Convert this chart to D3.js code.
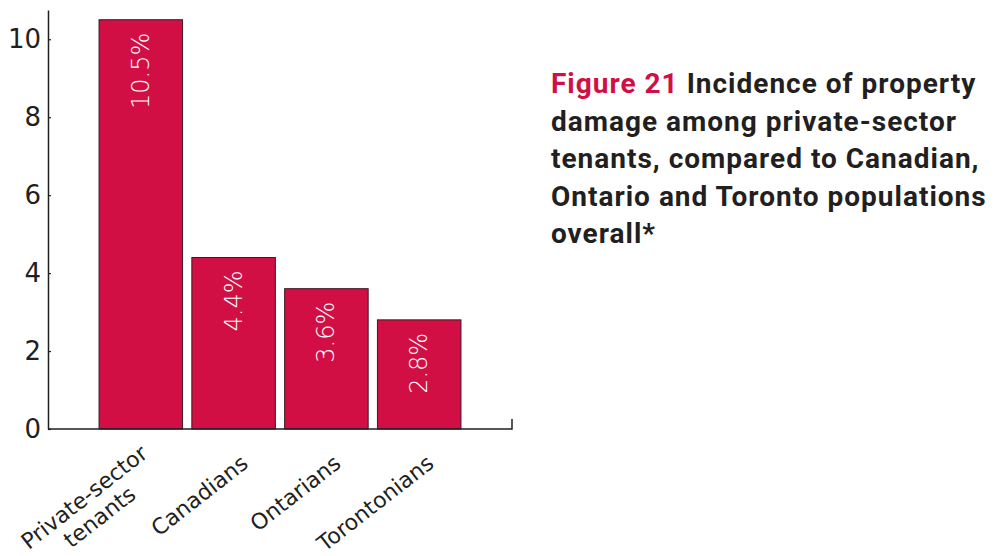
<!DOCTYPE html>
<html>
<head>
<meta charset="utf-8">
<script src="https://cdn.jsdelivr.net/npm/d3@7"></script>
<style>
  html, body { margin: 0; padding: 0; background: #fff; }
  svg { display: block; }
</style>
</head>
<body>
<svg id="chart" width="998" height="556"></svg>
<script>
// Incidence of property damage (%)
const categories = [["Private-sector", "tenants"], ["Canadians"], ["Ontarians"], ["Torontonians"]];
const values = [10.5, 4.4, 3.6, 2.8];
const valueLabels = ["10.5%", "4.4%", "3.6%", "2.8%"];
const yTicks = [0, 2, 4, 6, 8, 10];
const titleLead = "Figure 21";
const titleLines = [
  " Incidence of property",
  "damage among private-sector",
  "tenants, compared to Canadian,",
  "Ontario and Toronto populations",
  "overall*"
];

const RED = "#D10F45";
const INK = "#231F20";
const svg = d3.select("#chart");

const x = d3.scaleBand()
  .domain(d3.range(values.length))
  .range([48, 512])
  .paddingInner(0.1)
  .paddingOuter(0.55);

const y = d3.scaleLinear().domain([0, 10.75]).range([429, 10]);

// Bars
svg.append("g").selectAll("rect")
  .data(values)
  .join("rect")
  .attr("x", (d, i) => x(i))
  .attr("y", d => y(d))
  .attr("width", x.bandwidth())
  .attr("height", d => y(0) - y(d))
  .attr("fill", RED)
  .attr("stroke", "#3b1a22")
  .attr("stroke-width", 1);

// Value labels, rotated inside the top of each bar
svg.append("g").selectAll("text")
  .data(values)
  .join("text")
  .attr("transform", (d, i) => `translate(${x(i) + x.bandwidth() / 2 + 8},${y(d) + 13}) rotate(-90)`)
  .attr("text-anchor", "end")
  .attr("fill", "#fff")
  .style("font-family", "'DejaVu Sans'")
  .style("font-weight", 300)
  .style("font-size", "24px")
  .text((d, i) => valueLabels[i]);

// Y axis
const yAxis = d3.axisLeft(y)
  .tickValues(yTicks)
  .tickFormat(d3.format("d"))
  .tickSizeInner(-3)
  .tickSizeOuter(0)
  .tickPadding(7);
const gy = svg.append("g").attr("transform", "translate(48,0)").call(yAxis);
gy.select(".domain").attr("stroke", INK).attr("stroke-width", 1.5);
gy.selectAll(".tick line").attr("stroke", INK).attr("stroke-width", 1.2);
gy.selectAll(".tick text")
  .attr("fill", INK)
  .style("font-family", "'DejaVu Sans'")
  .style("font-size", "26px");

// X axis baseline with closing tick
const xAxis = d3.axisBottom(x).tickSize(0).tickSizeOuter(-10).tickFormat("");
const gx = svg.append("g").attr("transform", `translate(0,${y(0)})`).call(xAxis);
gx.select(".domain").attr("stroke", INK).attr("stroke-width", 1.5)
  .attr("d", `M48,0H512V-10`);

// Category labels, rotated
const lh = 25;
const catG = svg.append("g").selectAll("g")
  .data(categories)
  .join("g")
  .attr("transform", (d, i) => `translate(${x(i) + x.bandwidth() / 2 + 16},466) rotate(-38)`);
catG.each(function(lines) {
  const g = d3.select(this);
  const t = g.append("text")
    .attr("text-anchor", "middle")
    .attr("fill", INK)
    .style("font-family", "'DejaVu Sans'")
    .style("font-size", "22px");
  const spans = t.selectAll("tspan").data(lines).join("tspan")
    .attr("y", (d, k) => (k - (lines.length - 1) / 2) * lh)
    .text(d => d);
  let w = 0;
  spans.each(function() { w = Math.max(w, this.getComputedTextLength()); });
  spans.attr("x", -w / 2);
});

// Title block
const title = svg.append("text")
  .attr("x", 551)
  .attr("y", 93)
  .attr("fill", INK)
  .style("font-family", "Roboto")
  .style("font-weight", 700)
  .style("font-size", "28px")
  .style("letter-spacing", "1px");
titleLines.forEach((line, k) => {
  if (k === 0) {
    title.append("tspan").attr("x", 551).attr("y", 93).attr("fill", RED).text(titleLead);
    title.append("tspan").text(line);
  } else {
    title.append("tspan").attr("x", 551).attr("y", 93 + k * 37.5).text(line);
  }
});
</script>
</body>
</html>
